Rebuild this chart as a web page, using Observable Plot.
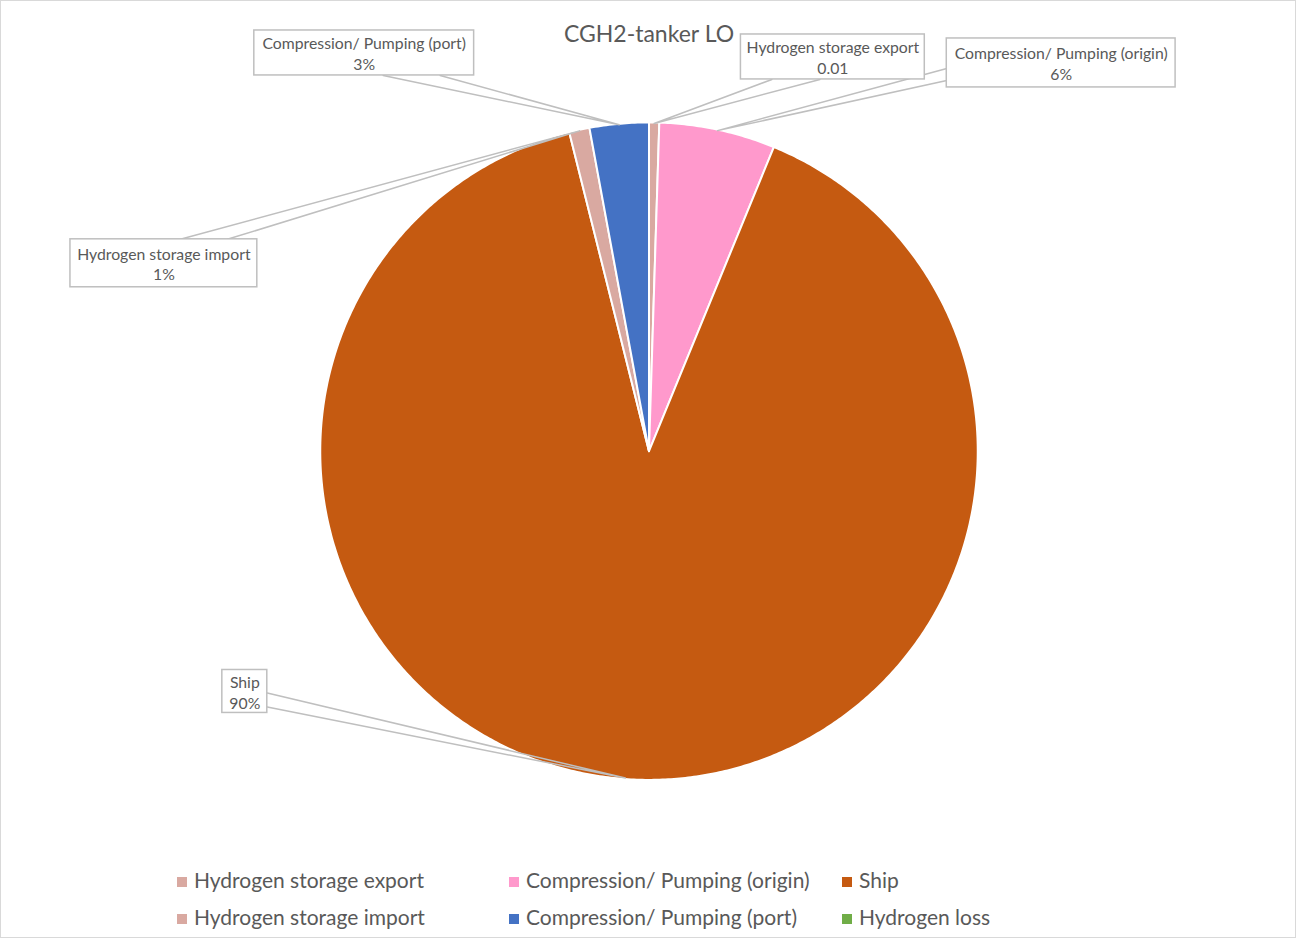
<!DOCTYPE html>
<html>
<head>
<meta charset="utf-8">
<script src="https://cdn.jsdelivr.net/npm/d3@7"></script>
<script src="https://cdn.jsdelivr.net/npm/@observablehq/plot@0.6"></script>
<style>
  html, body { margin: 0; padding: 0; background: #fff; }
  #chart { position: relative; width: 1296px; height: 938px; box-sizing: border-box; border: 1px solid #d9d9d9; overflow: hidden; font-family: Lato, "Open Sans", sans-serif; }
  #title { position: absolute; left: 0; top: 18px; width: 1296px; text-align: center; font-size: 23px; color: #595959; z-index: 2; pointer-events: none; }
  #plot { position: absolute; left: -1px; top: -1px; }
  .leg { position: absolute; font-size: 21px; color: #595959; white-space: nowrap; line-height: 24px; }
  .leg span.sw { display: inline-block; width: 10px; height: 10px; margin-right: 7px; vertical-align: 1px; }
</style>
</head>
<body>
<div id="chart">
  <div id="title"></div>
  <div id="plot"></div>
</div>
<script>
// ---- data ----
const chartTitle = "CGH2-tanker LO";
const categories = ["Hydrogen storage export", "Compression/ Pumping (origin)", "Ship", "Hydrogen storage import", "Compression/ Pumping (port)", "Hydrogen loss"];
const values = [0.005, 0.057, 0.899, 0.010, 0.029, 0];
const valueLabels = ["0.01", "6%", "90%", "1%", "3%", ""];
const colors = ["#D9A9A1", "#FF99CC", "#C55A11", "#D9A9A1", "#4472C4", "#70AD47"];
// legend order (two rows x three columns)
const legendOrder = ["Hydrogen storage export", "Compression/ Pumping (origin)", "Ship", "Hydrogen storage import", "Compression/ Pumping (port)", "Hydrogen loss"];

// ---- layout (pixel positions, not data) ----
const W = 1296, H = 850;
const pie = {cx: 649, cy: 451, r: 329};
const callouts = {
  "Compression/ Pumping (port)":   {x1: 254, x2: 474, y1: 30,  y2: 75,  base: [[383, 75], [440, 75]]},
  "Hydrogen storage export":       {x1: 741, x2: 925, y1: 34,  y2: 79,  base: [[772, 79], [820, 79]]},
  "Compression/ Pumping (origin)": {x1: 947, x2: 1176, y1: 38, y2: 87,  base: [[947, 68], [947, 80]]},
  "Hydrogen storage import":       {x1: 70,  x2: 257, y1: 239, y2: 287, base: [[180, 239], [227, 239]]},
  "Ship":                          {x1: 222, x2: 267, y1: 670, y2: 713, base: [[267, 693], [267, 707]]}
};
const legendPos = [
  {x: 176, y: 867}, {x: 508, y: 867}, {x: 841, y: 867},
  {x: 176, y: 904}, {x: 508, y: 904}, {x: 841, y: 904}
];

// ---- derived geometry ----
const total = d3.sum(values);
const slices = [];
let acc = 0;
categories.forEach((name, i) => {
  const a0 = acc / total * 2 * Math.PI;
  acc += values[i];
  const a1 = acc / total * 2 * Math.PI;
  slices.push({name, value: values[i], label: valueLabels[i], a0, a1, mid: (a0 + a1) / 2});
});
const pt = (a, rr) => [pie.cx + rr * Math.sin(a), pie.cy - rr * Math.cos(a)];

const slicePts = [];
for (const s of slices) {
  if (s.value <= 0) continue;
  slicePts.push({name: s.name, x: pie.cx, y: pie.cy});
  const n = Math.max(2, Math.ceil((s.a1 - s.a0) / (Math.PI / 360)));
  for (let k = 0; k <= n; k++) {
    const a = s.a0 + (s.a1 - s.a0) * k / n;
    const [x, y] = pt(a, pie.r);
    slicePts.push({name: s.name, x, y});
  }
}

const pointerPts = [];
const boxes = [];
const labelTexts = [];
for (const s of slices) {
  const c = callouts[s.name];
  if (!c) continue;
  const [ax, ay] = pt(s.mid, pie.r - 1);
  pointerPts.push({name: s.name, x: c.base[0][0], y: c.base[0][1]});
  pointerPts.push({name: s.name, x: ax, y: ay});
  pointerPts.push({name: s.name, x: c.base[1][0], y: c.base[1][1]});
  boxes.push({name: s.name, ...c});
  labelTexts.push({x: (c.x1 + c.x2) / 2, y: (c.y1 + c.y2) / 2, text: s.name + "\n" + s.label});
}

const plot = Plot.plot({
  width: W, height: H, margin: 0,
  x: {domain: [0, W], range: [0, W], axis: null},
  y: {domain: [0, H], range: [0, H], axis: null},
  color: {domain: categories, range: colors},
  style: {background: "transparent", fontFamily: "Lato, 'Open Sans', sans-serif"},
  marks: [
    Plot.line(slicePts, {x: "x", y: "y", z: "name", fill: "name", stroke: "white", strokeWidth: 2, curve: "linear-closed", strokeLinejoin: "round"}),
    Plot.line(pointerPts, {x: "x", y: "y", z: "name", stroke: "#BFBFBF", strokeWidth: 1.5, curve: "linear"}),
    Plot.rect(boxes, {x1: "x1", x2: "x2", y1: "y1", y2: "y2", fill: "white", stroke: "#BFBFBF", strokeWidth: 1.5}),
    Plot.text(labelTexts, {x: "x", y: "y", text: "text", fill: "#595959", fontSize: 15.8, lineHeight: 1.33})
  ]
});
document.getElementById("plot").appendChild(plot);
document.getElementById("title").textContent = chartTitle;

const chart = document.getElementById("chart");
legendOrder.forEach((name, i) => {
  const idx = categories.indexOf(name);
  const d = document.createElement("div");
  d.className = "leg";
  d.style.left = legendPos[i].x + "px";
  d.style.top = legendPos[i].y + "px";
  d.innerHTML = `<span class="sw" style="background:${colors[idx]}"></span>`;
  d.appendChild(document.createTextNode(name));
  chart.appendChild(d);
});
</script>
</body>
</html>
